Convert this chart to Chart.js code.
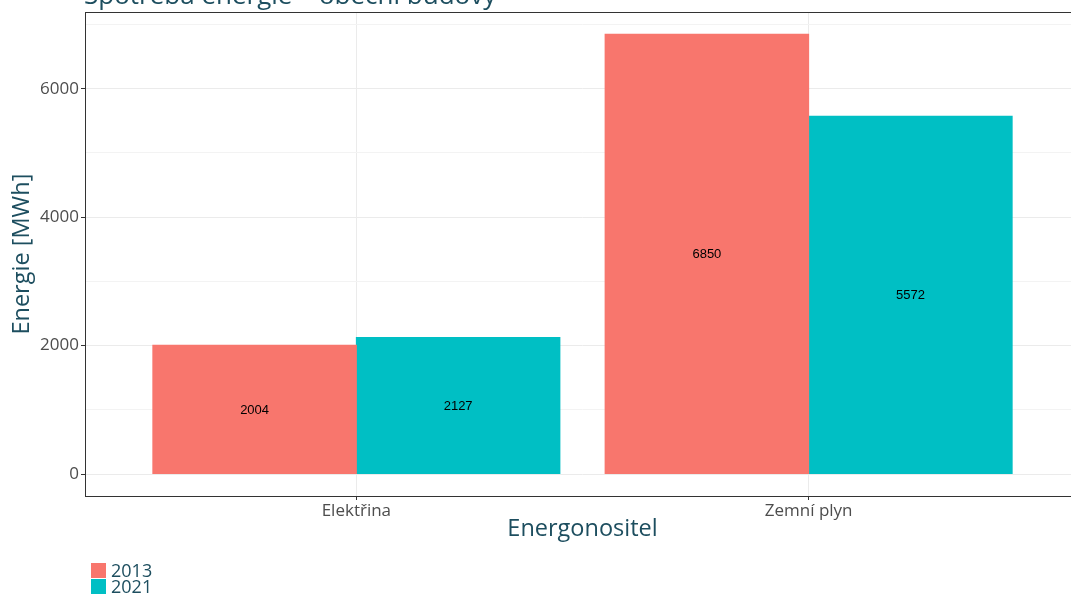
<!DOCTYPE html>
<html>
<head>
<meta charset="utf-8">
<script src="https://cdn.jsdelivr.net/npm/chart.js@4"></script>
<style>
  html, body { margin: 0; padding: 0; background: #ffffff; overflow: hidden; width: 1071px; height: 595px; }
  #wrap { position: absolute; left: 0; top: 0; width: 1090px; height: 595px; }
  #legend { position: absolute; left: 91px; top: 562px; font-family: "Open Sans", sans-serif; font-size: 18px; color: #1d4e5f; }
  .row { display: flex; align-items: center; height: 16px; }
  .box { width: 15px; height: 15px; margin-right: 5px; }
</style>
</head>
<body>
<div id="wrap"><canvas id="chart" width="1090" height="595"></canvas></div>
<div id="legend"></div>
<script>
const title = "Spotřeba energie – obecní budovy";
const categories = ["Elektřina", "Zemní plyn"];
const years = ["2013", "2021"];
const values2013 = [2004, 6850];
const values2021 = [2127, 5572];
const colors = ["#F8766D", "#00BFC4"];
const yTicks = [0, 1000, 2000, 3000, 4000, 5000, 6000, 7000];

const textColor = "#1d4e5f";
const fontFam = "'Open Sans', sans-serif";

const series = [values2013, values2021];

const datasets = years.map((y, k) => ({
    label: y,
    data: categories.map((c, i) => ({ x: i, y: series[k][i] })),
    backgroundColor: colors[k],
    borderWidth: 0,
    inflateAmount: 0.5,
    categoryPercentage: 0.9,
    barPercentage: 1.0
}));

// titulek (useknutý nahoře jako v originálu)
const titlePlugin = {
    id: 'cutTitle',
    afterDraw(chart) {
        const ctx = chart.ctx;
        ctx.save();
        ctx.font = "26px " + fontFam;
        ctx.fillStyle = textColor;
        ctx.textAlign = "left";
        ctx.textBaseline = "alphabetic";
        ctx.fillText(title, 84, 4);
        ctx.restore();
    }
};

// rámeček panelu
const borderPlugin = {
    id: 'panelBorder',
    afterDatasetsDraw(chart) {
        const a = chart.chartArea;
        const ctx = chart.ctx;
        ctx.save();
        ctx.strokeStyle = "#333333";
        ctx.lineWidth = 1;
        ctx.strokeRect(Math.round(a.left) + 0.5, Math.round(a.top) + 0.5,
            Math.round(a.right - a.left), Math.round(a.bottom - a.top));
        ctx.restore();
    }
};

// hodnoty uprostřed sloupců
const valueLabels = {
    id: 'valueLabels',
    afterDatasetsDraw(chart) {
        const ctx = chart.ctx;
        ctx.save();
        ctx.font = "13px 'Liberation Sans', Arial, sans-serif";
        ctx.fillStyle = "#000000";
        ctx.textAlign = "center";
        ctx.textBaseline = "middle";
        chart.data.datasets.forEach((ds, di) => {
            const meta = chart.getDatasetMeta(di);
            meta.data.forEach((bar, i) => {
                ctx.fillText(ds.data[i].y, bar.x, (bar.y + bar.base) / 2 + 1);
            });
        });
        ctx.restore();
    }
};

new Chart(document.getElementById("chart"), {
    type: 'bar',
    data: { datasets },
    options: {
        responsive: false,
        animation: false,
        layout: { padding: { top: 12, right: 10, bottom: 51, left: 0 } },
        plugins: {
            legend: { display: false },
            tooltip: { enabled: false }
        },
        scales: {
            x: {
                type: 'linear',
                min: -0.6,
                max: 1.6,
                offset: false,
                afterBuildTicks(scale) {
                    scale.ticks = categories.map((c, i) => ({ value: i }));
                },
                afterFit(scale) { scale.height = 48; },
                ticks: {
                    callback: (v) => categories[v],
                    color: "#4d4d4d",
                    font: { family: fontFam, size: 17 },
                    padding: 1,
                    maxRotation: 0
                },
                grid: { offset: false, color: "#ebebeb", lineWidth: 1, tickLength: 4, tickColor: "#333333" },
                border: { display: false },
                title: {
                    display: true,
                    text: "Energonositel",
                    color: textColor,
                    font: { family: fontFam, size: 23.5 },
                    padding: { top: 0, bottom: 1 }
                }
            },
            y: {
                min: -342.5,
                max: 7192.5,
                afterBuildTicks(scale) {
                    scale.ticks = yTicks.map(v => ({ value: v }));
                },
                afterFit(scale) { scale.width = 85; },
                ticks: {
                    callback: (v) => (v % 2000 === 0 ? v : ''),
                    color: "#4d4d4d",
                    font: { family: fontFam, size: 17 },
                    padding: 2
                },
                grid: {
                    color: (c) => (c.tick && c.tick.value % 2000 === 0 ? "#ebebeb" : "#f3f3f3"),
                    lineWidth: 1,
                    tickLength: 4,
                    tickColor: (c) => (c.tick && c.tick.value % 2000 === 0 ? "#333333" : "rgba(0,0,0,0)")
                },
                border: { display: false },
                title: {
                    display: true,
                    text: "Energie [MWh]",
                    color: textColor,
                    font: { family: fontFam, size: 23.5 },
                    padding: { top: 8, bottom: 0 }
                }
            }
        }
    },
    plugins: [titlePlugin, borderPlugin, valueLabels]
});

// legenda
const legend = document.getElementById("legend");
years.forEach((y, k) => {
    const row = document.createElement("div");
    row.className = "row";
    row.innerHTML = `<span class="box" style="background:${colors[k]}"></span><span>${y}</span>`;
    legend.appendChild(row);
});
</script>
</body>
</html>
